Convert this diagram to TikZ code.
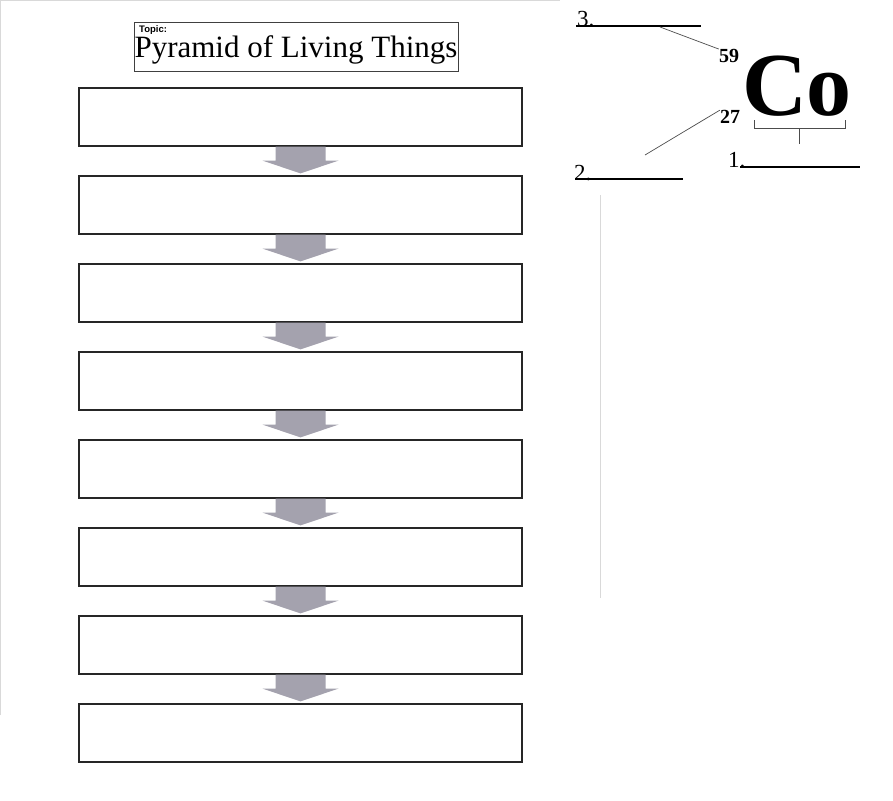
\documentclass[tikz,border=0pt]{standalone}
\usepackage{fontspec}
\setmainfont{Liberation Serif}
\newfontfamily\hel{Liberation Sans}
\usetikzlibrary{calc}
\definecolor{arrgray}{HTML}{A4A2AE}
\begin{document}
\begin{tikzpicture}[x=1pt,y=-1pt,
  bx/.style={draw=black!85,line width=1.2pt},
  blank/.style={line width=2.2pt},
  lead/.style={draw=black!70,line width=0.7pt}]
\useasboundingbox (0,0) rectangle (893,800);
\fill[white] (0,0) rectangle (893,800);
\draw[black!15,line width=1pt] (0.5,715) -- (0.5,0.5) -- (560,0.5);
\draw[black!15,line width=1pt] (600,195) -- (600,598);
\node[draw=black!75,line width=0.8pt,minimum width=324pt,minimum height=49pt,inner sep=0pt] (topic) at (296,46.5) {};
\node[anchor=north west,inner sep=0pt,font=\hel\bfseries\fontsize{9.5}{9.5}\selectfont] (tl) at (139,25) {Topic:};
\node[anchor=north,inner sep=0pt,font=\fontsize{31}{31}\selectfont] (tt) at (296,35) {Pyramid of Living Things};
\foreach \i in {0,...,7}{
  \node[bx,minimum width=443pt,minimum height=58pt,inner sep=0pt] (b\i) at (300.5,{117+88*\i}) {};
}
\foreach \i [count=\j] in {0,...,6}{
  \fill[arrgray] ($(b\i.south)+(-25,0)$) -- ++(50,0) -- ++(0,14) -- ++(13,0) -- ($(b\j.north)+(0,-2)$) -- ($(b\i.south)+(-38,14)$) -- ++(13,0) -- cycle;
}
% cobalt
\node[font=\bfseries\fontsize{90}{90}\selectfont,inner sep=0pt] (co) at (797,86) {Co};
\node[font=\bfseries\fontsize{20}{20}\selectfont,inner sep=0pt] (n59) at (729,56) {59};
\node[font=\bfseries\fontsize{20}{20}\selectfont,inner sep=0pt] (n27) at (730,117) {27};
\node[font=\fontsize{23}{23}\selectfont,inner sep=0pt,anchor=south west] (l3) at (577,27) {3.};
\node[font=\fontsize{23}{23}\selectfont,inner sep=0pt,anchor=south west] (l2) at (574,181) {2.};
\node[font=\fontsize{23}{23}\selectfont,inner sep=0pt,anchor=south west] (l1) at (728,168) {1.};
\coordinate (u3a) at (576,26); \coordinate (u3b) at (701,26);
\coordinate (u2a) at (575,179); \coordinate (u2b) at (683,179);
\coordinate (u1a) at (740,167); \coordinate (u1b) at (860,167);
\draw[blank] (u3a) -- (u3b); \draw[blank] (u2a) -- (u2b); \draw[blank] (u1a) -- (u1b);
\coordinate (p3) at (660,27); \coordinate (p2) at (645,155);
\draw[lead] (p3) -- (n59.north west);
\draw[lead] (p2) -- (n27.north west);
\coordinate (bl) at (754,120); \coordinate (br) at (845,120);
\draw[lead,line width=1pt] (bl) -- (754,128) -- (845,128) -- (br);
\draw[lead,line width=1pt] (799,128) -- (799,144);
\end{tikzpicture}
\end{document}
